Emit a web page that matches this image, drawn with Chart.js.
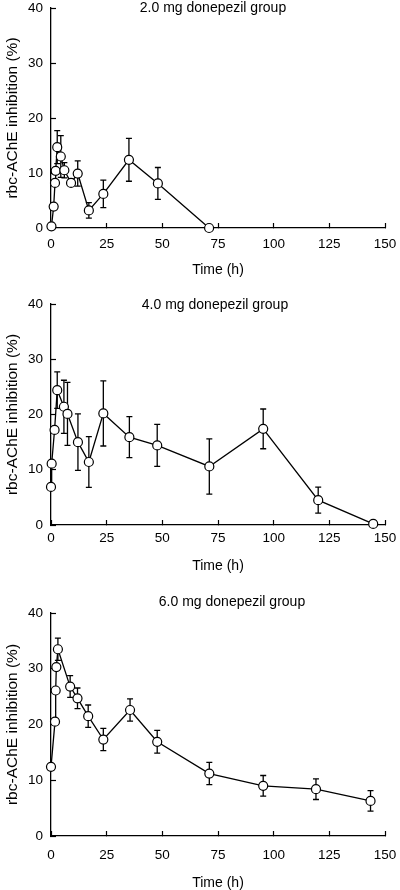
<!DOCTYPE html>
<html>
<head>
<meta charset="utf-8">
<script src="https://cdn.jsdelivr.net/npm/chart.js@4.4.0/dist/chart.umd.min.js"></script>
<style>
  body { margin: 0; background: #fff; width: 400px; height: 890px; overflow: hidden; position: relative; }
  canvas { position: absolute; left: 0; }
</style>
</head>
<body>
<canvas id="c2" width="400" height="290" style="top:0px"></canvas>
<canvas id="c4" width="400" height="300" style="top:290px"></canvas>
<canvas id="c6" width="400" height="310" style="top:590px"></canvas>
<script>
// values (time in h, inhibition in %, error bar half-length)
var times2 = [0.2, 1.2, 1.8, 2.1, 2.8, 4.4, 6, 9, 12, 17, 23.5, 35, 48, 71];
var vals2 = [0.3, 3.9, 8.2, 10.4, 14.7, 13.0, 10.5, 8.2, 9.9, 3.2, 6.2, 12.4, 8.1, 0];
var errs2 = [0, 0, 0, 0, 3.0, 3.8, 1.4, 0, 2.3, 1.4, 2.5, 3.9, 2.9, 0];

var times4 = [0, 0.3, 1.6, 2.8, 5.8, 7.4, 12.1, 17, 23.5, 35.2, 47.7, 71.1, 95.3, 120, 144.7];
var vals4 = [6.9, 11.1, 17.2, 24.4, 21.4, 20.1, 15.0, 11.4, 20.2, 15.9, 14.4, 10.6, 17.4, 4.5, 0.2];
var errs4 = [0, 0, 0, 3.3, 4.8, 5.7, 5.1, 4.6, 5.9, 3.7, 3.8, 5.0, 3.6, 2.35, 0];

var times6 = [0, 1.8, 2.1, 2.4, 3.1, 8.6, 11.9, 16.7, 23.5, 35.5, 47.7, 71.1, 95.3, 119, 143.5];
var vals6 = [12.4, 20.5, 26.1, 30.3, 33.5, 26.8, 24.7, 21.5, 17.3, 22.6, 16.9, 11.2, 9.0, 8.4, 6.3];
var errs6 = [0, 0, 0, 0, 2.0, 1.95, 1.85, 2.0, 2.0, 2.0, 2.05, 2.0, 1.85, 1.85, 1.85];

var xTicks = [0, 25, 50, 75, 100, 125, 150];
var yTicks = [0, 10, 20, 30, 40];

Chart.defaults.font.family = "'Liberation Sans', Arial, Helvetica, sans-serif";
Chart.defaults.color = "#000";

var errorBars = {
  id: "errorBars",
  beforeDatasetsDraw: function (chart) {
    var ctx = chart.ctx;
    var xs = chart.scales.x;
    var ys = chart.scales.y;
    ctx.save();
    ctx.strokeStyle = "#000";
    ctx.lineWidth = 1.3;
    chart.data.datasets[0].data.forEach(function (p) {
      if (!p.err) return;
      var x = xs.getPixelForValue(p.x);
      var lo = ys.getPixelForValue(p.y - p.err);
      var hi = ys.getPixelForValue(p.y + p.err);
      ctx.beginPath();
      ctx.moveTo(x, lo); ctx.lineTo(x, hi);
      ctx.moveTo(x - 3, lo); ctx.lineTo(x + 3, lo);
      ctx.moveTo(x - 3, hi); ctx.lineTo(x + 3, hi);
      ctx.stroke();
    });
    ctx.restore();
  }
};

var panelTitle = {
  id: "panelTitle",
  afterDraw: function (chart, args, opts) {
    var ctx = chart.ctx;
    ctx.save();
    ctx.font = "14px 'Liberation Sans', Arial, sans-serif";
    ctx.fillStyle = "#000";
    ctx.textAlign = "center";
    ctx.textBaseline = "middle";
    ctx.fillText(opts.text, opts.x, opts.y);
    ctx.restore();
  }
};

function makeChart(id, title, times, vals, errs, lay) {
  var points = times.map(function (t, i) {
    return { x: t, y: vals[i], err: errs[i] };
  });
  return new Chart(document.getElementById(id), {
    type: "line",
    data: {
      datasets: [{
        data: points,
        borderColor: "#000",
        borderWidth: 1.3,
        pointRadius: 4.5,
        pointBorderWidth: 1.2,
        pointBackgroundColor: "#fff",
        pointBorderColor: "#000",
        tension: 0,
        clip: false
      }]
    },
    options: {
      responsive: false,
      animation: false,
      layout: { padding: { top: lay.padTop, right: lay.padRight, left: 0, bottom: 0 } },
      plugins: {
        legend: { display: false },
        tooltip: { enabled: false },
        panelTitle: { text: title, x: lay.titleX, y: lay.titleY }
      },
      scales: {
        x: {
          type: "linear",
          min: 0,
          max: 150,
          afterBuildTicks: function (s) { s.ticks = xTicks.map(function (v) { return { value: v }; }); },
          ticks: { color: "#000", font: { size: 13.5 }, padding: lay.xTickPad, maxRotation: 0 },
          grid: { drawOnChartArea: false, color: "#000", tickLength: -5, tickWidth: 1.2 },
          border: { color: "#000", width: 1.3 },
          title: { display: true, text: "Time (h)", color: "#000", font: { size: 14 }, padding: { top: 0, bottom: lay.xTitlePad } },
          afterFit: function (s) { s.height = lay.xHeight; s.paddingLeft = 0; s.paddingRight = 0; }
        },
        y: {
          min: 0,
          max: 40,
          afterBuildTicks: function (s) { s.ticks = yTicks.map(function (v) { return { value: v }; }); },
          ticks: { color: "#000", font: { size: 13.5 }, padding: 13 },
          grid: { drawOnChartArea: false, color: "#000", tickLength: -5, tickWidth: 1.2 },
          border: { color: "#000", width: 1.3 },
          title: { display: true, text: "rbc-AChE inhibition (%)", color: "#000", font: { size: 15.5 }, padding: { top: 3, bottom: 0 } },
          afterFit: function (s) { s.width = 51; s.paddingTop = 0; s.paddingBottom = 0; }
        }
      }
    },
    plugins: [errorBars, panelTitle]
  });
}

makeChart("c2", "2.0 mg donepezil group", times2, vals2, errs2,
  { padTop: 8, padRight: 15, xHeight: 62, xTickPad: 13.6, xTitlePad: 11.6, titleX: 213, titleY: 8 });
makeChart("c4", "4.0 mg donepezil group", times4, vals4, errs4,
  { padTop: 14, padRight: 15, xHeight: 65, xTickPad: 10.6, xTitlePad: 15.6, titleX: 215, titleY: 15 });
makeChart("c6", "6.0 mg donepezil group", times6, vals6, errs6,
  { padTop: 23, padRight: 15, xHeight: 64, xTickPad: 16.6, xTitlePad: 8.6, titleX: 232, titleY: 12 });
</script>
</body>
</html>
